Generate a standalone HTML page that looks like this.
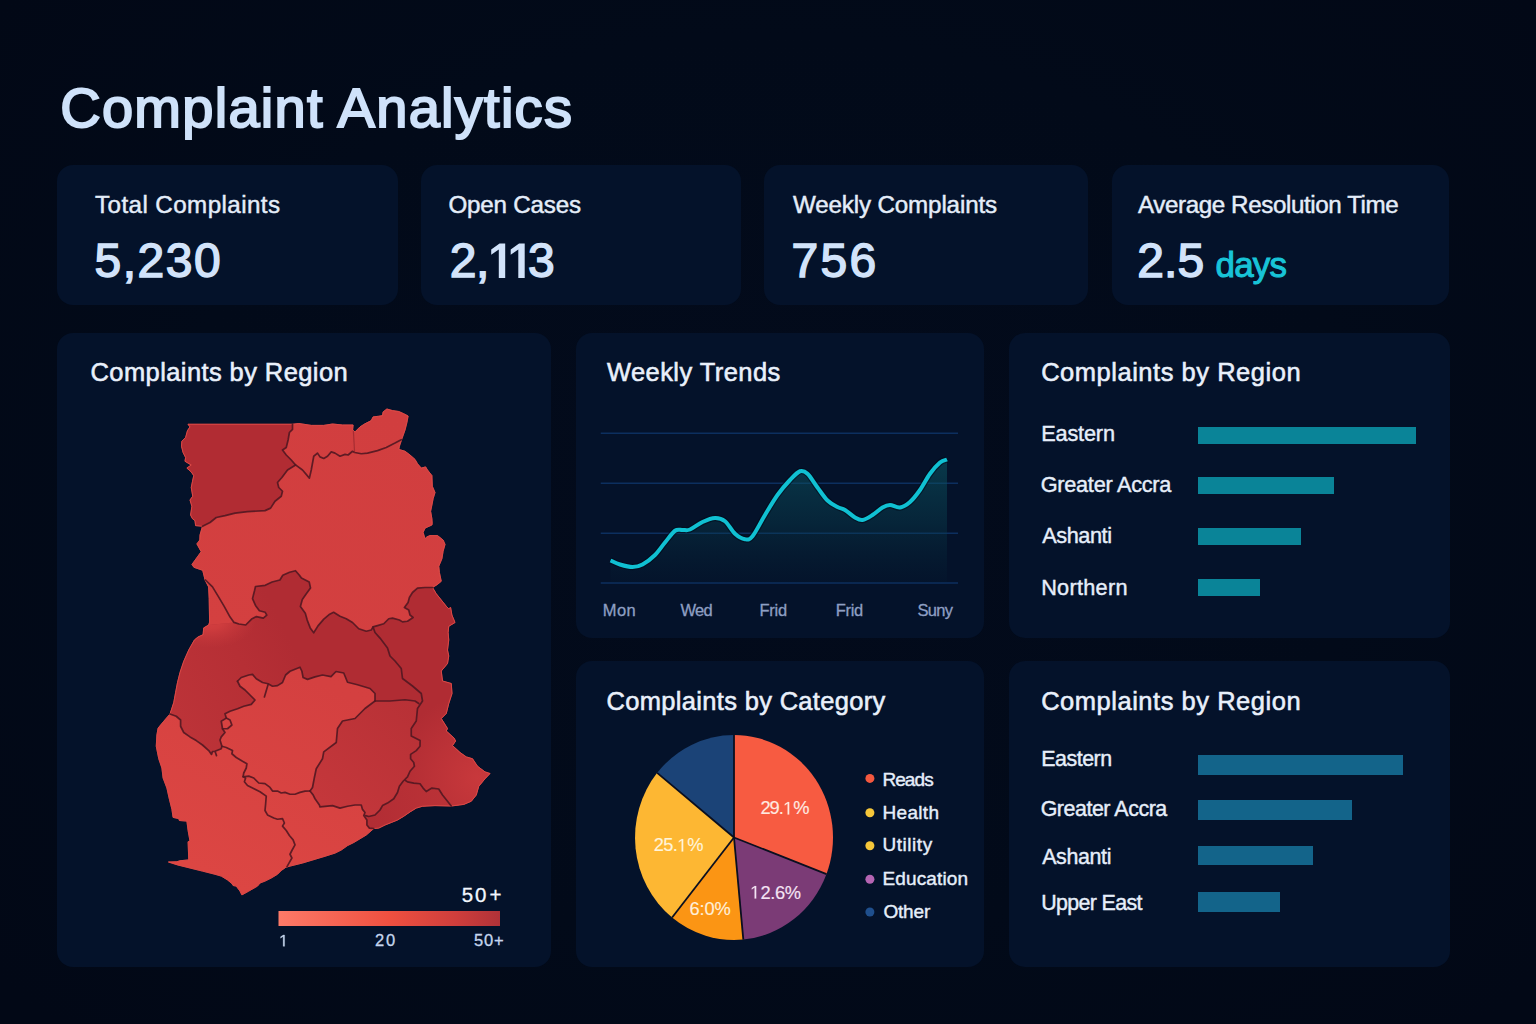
<!DOCTYPE html>
<html lang="en">
<head>
<meta charset="utf-8">
<title>Complaint Analytics</title>
<style>
*{margin:0;padding:0;box-sizing:border-box}
html,body{width:1536px;height:1024px;overflow:hidden}
body{background:#020917;font-family:"Liberation Sans",sans-serif;color:#e8f0fb;position:relative}
.bg{position:absolute;left:0;top:0;width:1536px;height:1024px;background:radial-gradient(ellipse 1000px 760px at 50% 48%,#030b1c 0%,#020a19 60%,#020816 100%)}
.card{position:absolute;background:#04122a;border-radius:16px}
.t{position:absolute;white-space:nowrap;line-height:1;font-weight:400}
.ov{position:absolute;left:0;top:0;pointer-events:none}
.bar{position:absolute}
</style>
</head>
<body>
<div class="bg"></div>
<div class="card" style="left:57px;top:165px;width:341px;height:140px"></div>
<div class="card" style="left:421px;top:165px;width:320px;height:140px"></div>
<div class="card" style="left:763.5px;top:165px;width:324px;height:140px"></div>
<div class="card" style="left:1112px;top:165px;width:337px;height:140px"></div>
<div class="card" style="left:57px;top:333px;width:494px;height:634px"></div>
<div class="card" style="left:575.5px;top:333px;width:408px;height:304.5px"></div>
<div class="card" style="left:1008.5px;top:333px;width:441.5px;height:304.5px"></div>
<div class="card" style="left:575.5px;top:661px;width:408px;height:306px"></div>
<div class="card" style="left:1008.5px;top:661px;width:441.5px;height:306px"></div>
<svg class="ov" width="1536" height="1024" viewBox="0 0 1536 1024">
<defs>
<linearGradient id="gl" gradientUnits="userSpaceOnUse" x1="400" y1="420" x2="180" y2="860"><stop offset="0" stop-color="#d13e3f"/><stop offset="0.55" stop-color="#d44040"/><stop offset="1" stop-color="#dc4643"/></linearGradient>
<linearGradient id="gd" gradientUnits="userSpaceOnUse" x1="170" y1="700" x2="290" y2="640"><stop offset="0" stop-color="#bc3338"/><stop offset="0.6" stop-color="#b62f35"/><stop offset="1" stop-color="#b02c33"/></linearGradient>
<radialGradient id="gvl" gradientUnits="userSpaceOnUse" cx="478" cy="778" r="85"><stop offset="0" stop-color="#c9393c" stop-opacity="0.95"/><stop offset="1" stop-color="#c9393c" stop-opacity="0"/></radialGradient>
<radialGradient id="gstrip" gradientUnits="userSpaceOnUse" cx="0" cy="0" r="1" gradientTransform="translate(210,621) scale(46,27)"><stop offset="0" stop-color="#d33f40" stop-opacity="1"/><stop offset="0.3" stop-color="#d23e3f" stop-opacity="0.85"/><stop offset="1" stop-color="#c6383b" stop-opacity="0"/></radialGradient>
<linearGradient id="gleg" x1="0" y1="0" x2="1" y2="0"><stop offset="0" stop-color="#fd7a68"/><stop offset="0.5" stop-color="#ef5040"/><stop offset="0.8" stop-color="#cf3e3c"/><stop offset="1" stop-color="#b03238"/></linearGradient>
<linearGradient id="ge" gradientUnits="userSpaceOnUse" x1="320" y1="800" x2="415" y2="705"><stop offset="0" stop-color="#c4373b"/><stop offset="1" stop-color="#b83136"/></linearGradient>
<linearGradient id="gga" gradientUnits="userSpaceOnUse" x1="370" y1="820" x2="450" y2="795"><stop offset="0" stop-color="#b22d34"/><stop offset="1" stop-color="#bb3237"/></linearGradient>
<clipPath id="cpdark"><polygon points="208.75,625.00 234.00,622.40 238.90,624.00 245.70,625.00 251.60,619.10 256.40,616.60 263.30,618.10 266.80,615.20 265.20,612.30 259.40,610.70 255.50,605.40 252.50,598.60 254.50,590.80 255.50,586.50 265.20,585.30 272.10,582.00 279.90,580.00 282.80,575.20 289.60,572.20 295.50,570.70 299.40,575.20 301.40,578.10 309.20,582.00 310.50,587.90 306.30,593.70 302.30,599.60 300.40,606.40 305.30,613.20 307.20,620.10 310.20,627.90 313.70,632.80 318.00,625.90 323.80,619.10 329.70,614.20 333.60,612.30 340.00,616.25 346.25,618.75 352.50,622.50 358.75,628.75 366.25,631.25 371.25,630.00 373.10,626.90 377.50,625.60 383.75,623.75 388.75,618.75 392.50,618.10 399.40,620.00 402.50,621.90 407.50,621.25 413.10,617.50 410.00,615.00 408.75,610.00 404.40,607.50 408.10,602.50 409.40,597.50 412.50,592.50 417.50,588.10 425.00,587.50 432.50,587.50 432.50,587.50 436.25,593.75 441.25,600.00 446.25,606.25 448.75,608.75 450.60,607.50 451.90,615.00 455.00,622.50 448.75,626.25 448.10,632.50 448.75,640.00 447.50,650.00 448.75,656.00 447.50,663.50 441.25,671.00 442.50,681.00 451.25,683.50 452.00,693.50 448.75,703.50 446.25,713.50 441.25,718.50 447.50,728.50 446.25,731.00 454.00,738.00 455.60,741.00 452.50,745.60 460.00,752.50 466.25,756.90 472.50,758.75 477.50,766.25 485.00,771.90 490.00,773.50 485.00,778.75 478.75,786.25 476.25,795.00 471.25,801.25 463.75,804.40 451.25,806.00 435.00,805.60 422.50,806.25 416.25,808.10 410.00,811.90 403.75,816.25 397.50,820.00 391.25,822.50 385.00,825.00 378.75,828.10 373.75,828.50 373.75,828.50 369.40,828.10 366.90,825.00 366.90,820.00 363.75,815.60 365.00,812.50 362.50,809.40 361.25,805.00 355.00,805.00 347.50,806.25 340.00,808.10 332.50,805.60 320.00,806.90 319.40,805.00 315.00,798.75 313.10,794.90 310.00,791.00 312.50,787.50 314.40,777.50 316.25,768.75 322.50,758.75 323.75,751.90 336.25,742.50 337.50,728.50 342.50,721.00 355.00,718.50 365.00,708.50 375.00,701.00 375.00,701.00 375.00,693.50 370.00,688.50 357.50,684.75 347.50,682.25 343.75,673.00 336.00,671.50 331.00,676.70 322.50,675.00 315.00,676.90 307.50,679.40 303.10,677.50 301.90,671.25 300.00,667.25 290.00,671.25 285.60,675.00 282.50,682.50 277.50,685.60 272.50,686.25 268.10,683.75 262.50,682.50 256.25,678.75 252.50,674.40 248.75,675.00 241.25,677.50 237.50,681.25 237.50,681.25 240.00,686.25 245.00,690.00 250.00,695.00 255.00,700.00 251.25,704.40 243.75,706.25 237.50,708.75 230.00,711.25 225.00,713.75 226.25,718.10 221.25,721.25 222.50,728.75 225.00,732.50 221.25,736.90 220.00,740.00 221.90,746.25 221.90,746.25 221.25,748.75 215.00,751.25 216.50,755.60 215.00,751.25 212.50,751.50 211.50,754.40 208.75,750.60 202.50,745.00 196.25,740.60 190.00,736.90 183.75,732.50 180.60,726.25 180.60,720.00 176.25,716.25 170.00,714.00 170.00,714.00 173.75,702.50 175.60,692.50 177.50,682.50 180.00,672.50 183.75,661.25 188.75,650.00 194.40,640.00 198.00,637.00 203.10,634.70 203.70,627.90 208.75,625.00"/></clipPath>
</defs>
<polygon points="188.00,424.25 292.50,424.25 298.75,423.50 311.25,425.40 323.75,425.40 332.50,424.00 342.50,425.00 353.10,425.00 352.60,430.00 355.00,431.90 360.00,426.90 365.00,423.75 371.25,420.60 373.10,416.90 378.75,416.25 382.50,415.60 383.10,411.90 386.90,409.00 392.50,410.60 398.75,411.50 403.75,413.75 408.10,416.00 406.90,422.50 405.00,430.00 401.90,438.75 399.40,446.25 398.75,449.40 405.00,451.25 410.00,455.00 415.00,459.40 417.50,463.75 421.25,468.10 425.60,466.90 427.50,470.00 431.90,475.60 432.30,486.25 435.00,492.50 433.10,498.75 431.90,505.00 430.60,511.25 431.90,518.75 432.20,523.50 431.90,525.00 425.00,528.10 423.10,532.50 425.00,538.75 426.90,536.90 430.00,535.60 437.50,535.60 443.10,540.00 445.00,544.40 443.10,551.25 441.90,558.75 438.75,566.25 439.40,572.50 441.25,581.25 437.50,584.40 432.50,587.50 436.25,593.75 441.25,600.00 446.25,606.25 448.75,608.75 450.60,607.50 451.90,615.00 455.00,622.50 448.75,626.25 448.10,632.50 448.75,640.00 447.50,650.00 448.75,656.00 447.50,663.50 441.25,671.00 442.50,681.00 451.25,683.50 452.00,693.50 448.75,703.50 446.25,713.50 441.25,718.50 447.50,728.50 446.25,731.00 454.00,738.00 455.60,741.00 452.50,745.60 460.00,752.50 466.25,756.90 472.50,758.75 477.50,766.25 485.00,771.90 490.00,773.50 485.00,778.75 478.75,786.25 476.25,795.00 471.25,801.25 463.75,804.40 451.25,806.00 435.00,805.60 422.50,806.25 416.25,808.10 410.00,811.90 403.75,816.25 397.50,820.00 391.25,822.50 385.00,825.00 378.75,828.10 373.75,828.50 366.25,835.00 360.00,838.75 353.75,842.50 347.50,845.60 341.25,850.00 335.00,853.10 325.00,856.25 315.00,859.25 302.50,863.00 290.00,866.10 285.60,867.40 281.25,870.50 277.50,874.25 271.25,878.00 265.00,881.10 260.00,883.00 257.50,886.10 248.75,891.10 241.90,894.90 240.00,891.10 236.25,886.10 233.10,885.50 231.90,883.60 227.50,879.90 221.25,876.10 215.00,874.25 202.50,871.10 190.00,868.00 177.50,864.90 168.50,862.00 176.90,861.75 180.00,860.75 188.75,859.90 188.10,841.75 190.00,841.10 188.10,830.50 186.90,821.10 179.40,820.50 178.75,818.60 173.10,817.40 171.90,809.25 169.40,799.25 166.90,788.00 163.10,778.00 161.90,768.00 158.75,758.75 156.25,746.25 156.90,735.00 158.10,728.10 163.75,721.25 170.00,714.00 173.75,702.50 175.60,692.50 177.50,682.50 180.00,672.50 183.75,661.25 188.75,650.00 194.40,640.00 198.00,637.00 203.10,634.70 203.70,627.90 208.75,625.00 209.60,622.00 209.20,598.60 208.60,586.90 205.10,580.00 202.70,570.30 193.90,567.30 192.00,564.40 201.20,551.70 196.90,543.90 199.80,540.00 200.00,535.00 202.50,526.25 195.60,525.60 195.00,520.60 192.50,518.75 190.60,515.00 191.90,506.25 190.00,500.00 192.75,496.25 191.25,487.50 192.50,481.25 193.75,475.60 191.25,471.90 186.90,468.10 191.25,465.00 185.00,461.25 185.60,457.50 183.10,452.50 181.50,446.25 181.90,441.25 185.60,437.50 187.50,430.60 190.00,426.90" fill="url(#gl)" stroke="#d64241" stroke-width="0.8" stroke-linejoin="round"/>
<polygon points="292.50,424.25 292.50,429.40 289.40,432.50 288.10,440.00 286.25,447.50 282.50,450.00 286.25,455.00 291.25,460.00 295.60,465.00 287.50,470.00 281.90,477.50 277.50,482.50 278.75,487.50 282.50,491.25 281.25,496.25 275.00,501.25 270.60,508.10 265.00,510.60 247.50,511.60 235.00,513.10 225.00,515.60 216.25,517.50 210.00,522.50 202.50,526.25 202.50,526.25 195.60,525.60 195.00,520.60 192.50,518.75 190.60,515.00 191.90,506.25 190.00,500.00 192.75,496.25 191.25,487.50 192.50,481.25 193.75,475.60 191.25,471.90 186.90,468.10 191.25,465.00 185.00,461.25 185.60,457.50 183.10,452.50 181.50,446.25 181.90,441.25 185.60,437.50 187.50,430.60 190.00,426.90 188.00,424.25" fill="#b12c33"/>
<polygon points="208.75,625.00 234.00,622.40 238.90,624.00 245.70,625.00 251.60,619.10 256.40,616.60 263.30,618.10 266.80,615.20 265.20,612.30 259.40,610.70 255.50,605.40 252.50,598.60 254.50,590.80 255.50,586.50 265.20,585.30 272.10,582.00 279.90,580.00 282.80,575.20 289.60,572.20 295.50,570.70 299.40,575.20 301.40,578.10 309.20,582.00 310.50,587.90 306.30,593.70 302.30,599.60 300.40,606.40 305.30,613.20 307.20,620.10 310.20,627.90 313.70,632.80 318.00,625.90 323.80,619.10 329.70,614.20 333.60,612.30 340.00,616.25 346.25,618.75 352.50,622.50 358.75,628.75 366.25,631.25 371.25,630.00 373.10,626.90 377.50,625.60 383.75,623.75 388.75,618.75 392.50,618.10 399.40,620.00 402.50,621.90 407.50,621.25 413.10,617.50 410.00,615.00 408.75,610.00 404.40,607.50 408.10,602.50 409.40,597.50 412.50,592.50 417.50,588.10 425.00,587.50 432.50,587.50 432.50,587.50 436.25,593.75 441.25,600.00 446.25,606.25 448.75,608.75 450.60,607.50 451.90,615.00 455.00,622.50 448.75,626.25 448.10,632.50 448.75,640.00 447.50,650.00 448.75,656.00 447.50,663.50 441.25,671.00 442.50,681.00 451.25,683.50 452.00,693.50 448.75,703.50 446.25,713.50 441.25,718.50 447.50,728.50 446.25,731.00 454.00,738.00 455.60,741.00 452.50,745.60 460.00,752.50 466.25,756.90 472.50,758.75 477.50,766.25 485.00,771.90 490.00,773.50 485.00,778.75 478.75,786.25 476.25,795.00 471.25,801.25 463.75,804.40 451.25,806.00 435.00,805.60 422.50,806.25 416.25,808.10 410.00,811.90 403.75,816.25 397.50,820.00 391.25,822.50 385.00,825.00 378.75,828.10 373.75,828.50 373.75,828.50 369.40,828.10 366.90,825.00 366.90,820.00 363.75,815.60 365.00,812.50 362.50,809.40 361.25,805.00 355.00,805.00 347.50,806.25 340.00,808.10 332.50,805.60 320.00,806.90 319.40,805.00 315.00,798.75 313.10,794.90 310.00,791.00 312.50,787.50 314.40,777.50 316.25,768.75 322.50,758.75 323.75,751.90 336.25,742.50 337.50,728.50 342.50,721.00 355.00,718.50 365.00,708.50 375.00,701.00 375.00,701.00 375.00,693.50 370.00,688.50 357.50,684.75 347.50,682.25 343.75,673.00 336.00,671.50 331.00,676.70 322.50,675.00 315.00,676.90 307.50,679.40 303.10,677.50 301.90,671.25 300.00,667.25 290.00,671.25 285.60,675.00 282.50,682.50 277.50,685.60 272.50,686.25 268.10,683.75 262.50,682.50 256.25,678.75 252.50,674.40 248.75,675.00 241.25,677.50 237.50,681.25 237.50,681.25 240.00,686.25 245.00,690.00 250.00,695.00 255.00,700.00 251.25,704.40 243.75,706.25 237.50,708.75 230.00,711.25 225.00,713.75 226.25,718.10 221.25,721.25 222.50,728.75 225.00,732.50 221.25,736.90 220.00,740.00 221.90,746.25 221.90,746.25 221.25,748.75 215.00,751.25 216.50,755.60 215.00,751.25 212.50,751.50 211.50,754.40 208.75,750.60 202.50,745.00 196.25,740.60 190.00,736.90 183.75,732.50 180.60,726.25 180.60,720.00 176.25,716.25 170.00,714.00 170.00,714.00 173.75,702.50 175.60,692.50 177.50,682.50 180.00,672.50 183.75,661.25 188.75,650.00 194.40,640.00 198.00,637.00 203.10,634.70 203.70,627.90 208.75,625.00" fill="url(#gd)"/>
<rect x="380" y="690" width="120" height="130" fill="url(#gvl)" clip-path="url(#cpdark)"/>
<polygon points="310.00,791.00 312.50,787.50 314.40,777.50 316.25,768.75 322.50,758.75 323.75,751.90 336.25,742.50 337.50,728.50 342.50,721.00 355.00,718.50 365.00,708.50 375.00,701.00 390.00,701.00 405.00,699.75 415.00,701.00 418.75,703.50 422.50,701.00 417.50,708.50 416.25,721.00 411.25,728.50 411.25,736.00 420.10,740.60 420.00,746.25 416.25,750.60 410.60,754.40 410.60,758.75 413.75,762.50 414.40,766.25 410.00,771.25 407.50,776.90 403.10,781.25 399.40,786.25 397.50,792.50 393.75,798.75 387.50,803.10 382.50,805.60 380.00,810.00 375.00,815.00 368.75,816.50 365.60,815.60 363.75,815.60 365.00,812.50 362.50,809.40 361.25,805.00 355.00,805.00 347.50,806.25 340.00,808.10 332.50,805.60 320.00,806.90 319.40,805.00 315.00,798.75 313.10,794.90 310.00,791.00" fill="url(#ge)"/>
<polygon points="405.50,780.50 407.50,781.90 413.75,783.10 420.00,783.75 423.10,788.10 426.25,791.50 431.90,788.10 438.75,789.00 442.50,795.00 447.50,801.25 451.25,806.00 451.25,806.00 435.00,805.60 422.50,806.25 416.25,808.10 410.00,811.90 403.75,816.25 397.50,820.00 391.25,822.50 385.00,825.00 378.75,828.10 373.75,828.50 369.40,828.10 366.90,825.00 366.90,820.00 365.60,815.60 368.75,816.50 375.00,815.00 380.00,810.00 382.50,805.60 387.50,803.10 393.75,798.75 397.50,792.50 399.40,786.25 403.10,781.25" fill="url(#gga)"/>
<rect x="140" y="560" width="150" height="140" fill="url(#gstrip)" clip-path="url(#cpdark)"/>
<polygon points="188.00,424.25 292.50,424.25 298.75,423.50 311.25,425.40 323.75,425.40 332.50,424.00 342.50,425.00 353.10,425.00 352.60,430.00 355.00,431.90 360.00,426.90 365.00,423.75 371.25,420.60 373.10,416.90 378.75,416.25 382.50,415.60 383.10,411.90 386.90,409.00 392.50,410.60 398.75,411.50 403.75,413.75 408.10,416.00 406.90,422.50 405.00,430.00 401.90,438.75 399.40,446.25 398.75,449.40 405.00,451.25 410.00,455.00 415.00,459.40 417.50,463.75 421.25,468.10 425.60,466.90 427.50,470.00 431.90,475.60 432.30,486.25 435.00,492.50 433.10,498.75 431.90,505.00 430.60,511.25 431.90,518.75 432.20,523.50 431.90,525.00 425.00,528.10 423.10,532.50 425.00,538.75 426.90,536.90 430.00,535.60 437.50,535.60 443.10,540.00 445.00,544.40 443.10,551.25 441.90,558.75 438.75,566.25 439.40,572.50 441.25,581.25 437.50,584.40 432.50,587.50 436.25,593.75 441.25,600.00 446.25,606.25 448.75,608.75 450.60,607.50 451.90,615.00 455.00,622.50 448.75,626.25 448.10,632.50 448.75,640.00 447.50,650.00 448.75,656.00 447.50,663.50 441.25,671.00 442.50,681.00 451.25,683.50 452.00,693.50 448.75,703.50 446.25,713.50 441.25,718.50 447.50,728.50 446.25,731.00 454.00,738.00 455.60,741.00 452.50,745.60 460.00,752.50 466.25,756.90 472.50,758.75 477.50,766.25 485.00,771.90 490.00,773.50 485.00,778.75 478.75,786.25 476.25,795.00 471.25,801.25 463.75,804.40 451.25,806.00 435.00,805.60 422.50,806.25 416.25,808.10 410.00,811.90 403.75,816.25 397.50,820.00 391.25,822.50 385.00,825.00 378.75,828.10 373.75,828.50 366.25,835.00 360.00,838.75 353.75,842.50 347.50,845.60 341.25,850.00 335.00,853.10 325.00,856.25 315.00,859.25 302.50,863.00 290.00,866.10 285.60,867.40 281.25,870.50 277.50,874.25 271.25,878.00 265.00,881.10 260.00,883.00 257.50,886.10 248.75,891.10 241.90,894.90 240.00,891.10 236.25,886.10 233.10,885.50 231.90,883.60 227.50,879.90 221.25,876.10 215.00,874.25 202.50,871.10 190.00,868.00 177.50,864.90 168.50,862.00 176.90,861.75 180.00,860.75 188.75,859.90 188.10,841.75 190.00,841.10 188.10,830.50 186.90,821.10 179.40,820.50 178.75,818.60 173.10,817.40 171.90,809.25 169.40,799.25 166.90,788.00 163.10,778.00 161.90,768.00 158.75,758.75 156.25,746.25 156.90,735.00 158.10,728.10 163.75,721.25 170.00,714.00 173.75,702.50 175.60,692.50 177.50,682.50 180.00,672.50 183.75,661.25 188.75,650.00 194.40,640.00 198.00,637.00 203.10,634.70 203.70,627.90 208.75,625.00 209.60,622.00 209.20,598.60 208.60,586.90 205.10,580.00 202.70,570.30 193.90,567.30 192.00,564.40 201.20,551.70 196.90,543.90 199.80,540.00 200.00,535.00 202.50,526.25 195.60,525.60 195.00,520.60 192.50,518.75 190.60,515.00 191.90,506.25 190.00,500.00 192.75,496.25 191.25,487.50 192.50,481.25 193.75,475.60 191.25,471.90 186.90,468.10 191.25,465.00 185.00,461.25 185.60,457.50 183.10,452.50 181.50,446.25 181.90,441.25 185.60,437.50 187.50,430.60 190.00,426.90" fill="none" stroke="#e64f49" stroke-width="1" stroke-linejoin="round" opacity="0.75"/>
<polyline points="292.50,424.25 292.50,429.40 289.40,432.50 288.10,440.00 286.25,447.50 282.50,450.00 286.25,455.00 291.25,460.00 295.60,465.00 287.50,470.00 281.90,477.50 277.50,482.50 278.75,487.50 282.50,491.25 281.25,496.25 275.00,501.25 270.60,508.10 265.00,510.60 247.50,511.60 235.00,513.10 225.00,515.60 216.25,517.50 210.00,522.50 202.50,526.25" fill="none" stroke="#521721" stroke-width="1.7" stroke-linejoin="round" stroke-linecap="round" opacity="0.9"/>
<polyline points="295.20,464.60 302.50,470.00 309.40,478.10 311.25,470.00 313.75,456.25 317.50,453.10 320.00,456.90 323.75,458.50 327.50,456.25 331.25,451.90 335.00,453.10 340.00,456.25 345.00,454.40 348.10,455.00 352.50,451.25 354.75,452.50 361.25,453.75 367.50,453.10 377.50,450.60 386.25,447.50 395.00,443.10 401.25,439.75" fill="none" stroke="#521721" stroke-width="1.7" stroke-linejoin="round" stroke-linecap="round" opacity="0.9"/>
<polyline points="205.50,580.00 212.50,586.90 218.40,596.60 224.20,606.40 230.10,617.10 234.00,622.40 238.90,624.00 245.70,625.00 251.60,619.10 256.40,616.60 263.30,618.10 266.80,615.20 265.20,612.30 259.40,610.70 255.50,605.40 252.50,598.60 254.50,590.80 255.50,586.50 265.20,585.30 272.10,582.00 279.90,580.00 282.80,575.20 289.60,572.20 295.50,570.70 299.40,575.20 301.40,578.10 309.20,582.00 310.50,587.90 306.30,593.70 302.30,599.60 300.40,606.40 305.30,613.20 307.20,620.10 310.20,627.90 313.70,632.80 318.00,625.90 323.80,619.10 329.70,614.20 333.60,612.30 340.00,616.25 346.25,618.75 352.50,622.50 358.75,628.75 366.25,631.25 371.25,630.00 373.10,626.90 377.50,625.60 383.75,623.75 388.75,618.75 392.50,618.10 399.40,620.00 402.50,621.90 407.50,621.25 413.10,617.50 410.00,615.00 408.75,610.00 404.40,607.50 408.10,602.50 409.40,597.50 412.50,592.50 417.50,588.10 425.00,587.50 432.50,587.50" fill="none" stroke="#521721" stroke-width="1.7" stroke-linejoin="round" stroke-linecap="round" opacity="0.9"/>
<polyline points="373.10,626.90 375.00,632.50 380.00,638.10 383.75,643.10 387.50,648.00 390.00,656.00 395.00,661.00 401.25,668.50 402.50,678.50 412.50,686.00 421.25,693.50 422.50,701.00 417.50,708.50 416.25,721.00 411.25,728.50 411.25,736.00 420.10,740.60 420.00,746.25 416.25,750.60 410.60,754.40 410.60,758.75 413.75,762.50 414.40,766.25 410.00,771.25 407.50,776.90 403.10,781.25 399.40,786.25 397.50,792.50 393.75,798.75 387.50,803.10 382.50,805.60 380.00,810.00 375.00,815.00 368.75,816.50 365.60,815.60" fill="none" stroke="#521721" stroke-width="1.7" stroke-linejoin="round" stroke-linecap="round" opacity="0.9"/>
<polyline points="237.50,681.25 241.25,677.50 248.75,675.00 252.50,674.40 256.25,678.75 262.50,682.50 268.10,683.75 272.50,686.25 277.50,685.60 282.50,682.50 285.60,675.00 290.00,671.25 300.00,667.25 301.90,671.25 303.10,677.50 307.50,679.40 315.00,676.90 322.50,675.00 331.00,676.70 336.00,671.50 343.75,673.00 347.50,682.25 357.50,684.75 370.00,688.50 375.00,693.50 375.00,701.00" fill="none" stroke="#521721" stroke-width="1.7" stroke-linejoin="round" stroke-linecap="round" opacity="0.9"/>
<polyline points="268.10,684.50 264.40,696.90" fill="none" stroke="#521721" stroke-width="1.7" stroke-linejoin="round" stroke-linecap="round" opacity="0.9"/>
<polyline points="237.50,681.25 240.00,686.25 245.00,690.00 250.00,695.00 255.00,700.00 251.25,704.40 243.75,706.25 237.50,708.75 230.00,711.25 225.00,713.75 226.25,718.10 221.25,721.25 222.50,728.75 225.00,732.50 221.25,736.90 220.00,740.00 221.90,746.25 226.25,747.50 232.50,750.60 231.90,753.75 236.25,757.50 242.50,761.25 246.90,763.75 246.25,768.00 243.75,773.00 243.10,776.75 248.75,776.10 253.75,778.00 258.75,783.00 265.00,783.60 270.00,787.40 272.50,791.10 277.50,791.10 281.25,793.00 285.00,792.40 290.00,794.25 295.00,794.25 300.00,792.40 305.00,791.10 310.00,791.00" fill="none" stroke="#521721" stroke-width="1.7" stroke-linejoin="round" stroke-linecap="round" opacity="0.9"/>
<polyline points="226.25,718.10 230.00,720.00 231.90,725.00 227.50,728.75 222.50,728.75" fill="none" stroke="#521721" stroke-width="1.7" stroke-linejoin="round" stroke-linecap="round" opacity="0.9"/>
<polyline points="310.00,791.00 312.50,787.50 314.40,777.50 316.25,768.75 322.50,758.75 323.75,751.90 336.25,742.50 337.50,728.50 342.50,721.00 355.00,718.50 365.00,708.50 375.00,701.00" fill="none" stroke="#521721" stroke-width="1.7" stroke-linejoin="round" stroke-linecap="round" opacity="0.9"/>
<polyline points="375.00,701.00 390.00,701.00 405.00,699.75 415.00,701.00 418.75,703.50" fill="none" stroke="#521721" stroke-width="1.7" stroke-linejoin="round" stroke-linecap="round" opacity="0.9"/>
<polyline points="405.50,780.50 407.50,781.90 413.75,783.10 420.00,783.75 423.10,788.10 426.25,791.50 431.90,788.10 438.75,789.00 442.50,795.00 447.50,801.25 451.25,806.00" fill="none" stroke="#521721" stroke-width="1.7" stroke-linejoin="round" stroke-linecap="round" opacity="0.9"/>
<polyline points="310.00,791.00 313.10,794.90 315.00,798.75 319.40,805.00 320.00,806.90 332.50,805.60 340.00,808.10 347.50,806.25 355.00,805.00 361.25,805.00 362.50,809.40 365.00,812.50 363.75,815.60 366.90,820.00 366.90,825.00 369.40,828.10 373.75,828.50" fill="none" stroke="#521721" stroke-width="1.7" stroke-linejoin="round" stroke-linecap="round" opacity="0.9"/>
<polyline points="243.10,776.75 245.60,778.00 244.40,781.75 247.50,785.50 252.50,788.00 260.00,791.75 266.25,796.10 265.60,804.25 265.00,810.50 267.50,814.90 273.75,818.00 277.50,819.25 282.50,818.60 284.40,823.00 282.50,826.10 286.25,830.50 289.40,835.50 293.10,839.90 295.00,844.90 291.90,850.50 290.00,854.25 291.90,858.00 289.40,862.40 286.90,866.80" fill="none" stroke="#521721" stroke-width="1.7" stroke-linejoin="round" stroke-linecap="round" opacity="0.9"/>
<polyline points="170.00,714.00 176.25,716.25 180.60,720.00 180.60,726.25 183.75,732.50 190.00,736.90 196.25,740.60 202.50,745.00 208.75,750.60 211.50,754.40 212.50,751.50 215.00,751.25 216.50,755.60 215.00,751.25 221.25,748.75 221.90,746.25" fill="none" stroke="#521721" stroke-width="1.7" stroke-linejoin="round" stroke-linecap="round" opacity="0.9"/>
<polyline points="353.40,431.25 354.60,452.20" fill="none" stroke="#8a2229" stroke-width="1.2" stroke-linecap="round" opacity="0.6"/>
<rect x="278.5" y="911" width="221.5" height="15" fill="url(#gleg)"/>
</svg>
<svg class="ov" width="1536" height="1024" viewBox="0 0 1536 1024">
<defs><linearGradient id="gt" gradientUnits="userSpaceOnUse" x1="0" y1="460" x2="0" y2="585"><stop offset="0" stop-color="#0c5a66" stop-opacity="0.55"/><stop offset="0.5" stop-color="#0a4452" stop-opacity="0.38"/><stop offset="1" stop-color="#08303f" stop-opacity="0.05"/></linearGradient></defs>
<line x1="600.75" y1="433.25" x2="958" y2="433.25" stroke="#0c2f5f" stroke-width="1.3"/>
<line x1="600.75" y1="483.25" x2="958" y2="483.25" stroke="#0c2f5f" stroke-width="1.3"/>
<line x1="600.75" y1="533.25" x2="958" y2="533.25" stroke="#0c2f5f" stroke-width="1.3"/>
<line x1="600.75" y1="583" x2="958" y2="583" stroke="#0c2f5f" stroke-width="1.3"/>
<path d="M610.50,560.50 C612.08,561.17 616.33,563.42 620.00,564.50 C623.67,565.58 628.75,567.00 632.50,567.00 C636.25,567.00 638.75,566.50 642.50,564.50 C646.25,562.50 651.25,558.67 655.00,555.00 C658.75,551.33 661.67,546.54 665.00,542.50 C668.33,538.46 672.08,532.83 675.00,530.75 C677.92,528.67 680.00,530.21 682.50,530.00 C685.00,529.79 686.67,530.83 690.00,529.50 C693.33,528.17 698.33,523.92 702.50,522.00 C706.67,520.08 711.25,518.12 715.00,518.00 C718.75,517.88 721.67,518.62 725.00,521.25 C728.33,523.88 731.67,530.75 735.00,533.75 C738.33,536.75 742.08,538.83 745.00,539.25 C747.92,539.67 749.17,540.29 752.50,536.25 C755.83,532.21 760.83,521.88 765.00,515.00 C769.17,508.12 773.33,500.83 777.50,495.00 C781.67,489.17 786.25,483.96 790.00,480.00 C793.75,476.04 797.08,472.29 800.00,471.25 C802.92,470.21 804.58,471.04 807.50,473.75 C810.42,476.46 814.17,483.04 817.50,487.50 C820.83,491.96 824.17,497.25 827.50,500.50 C830.83,503.75 834.58,505.42 837.50,507.00 C840.42,508.58 842.08,508.25 845.00,510.00 C847.92,511.75 852.08,515.83 855.00,517.50 C857.92,519.17 859.58,520.42 862.50,520.00 C865.42,519.58 869.17,517.08 872.50,515.00 C875.83,512.92 879.58,509.17 882.50,507.50 C885.42,505.83 887.08,505.00 890.00,505.00 C892.92,505.00 896.67,508.00 900.00,507.50 C903.33,507.00 906.67,504.92 910.00,502.00 C913.33,499.08 916.67,494.71 920.00,490.00 C923.33,485.29 926.67,478.33 930.00,473.75 C933.33,469.17 937.17,464.88 940.00,462.50 C942.83,460.12 945.83,460.00 947.00,459.50 L947,583 L610.5,583 Z" fill="url(#gt)"/>
<path d="M610.50,560.50 C612.08,561.17 616.33,563.42 620.00,564.50 C623.67,565.58 628.75,567.00 632.50,567.00 C636.25,567.00 638.75,566.50 642.50,564.50 C646.25,562.50 651.25,558.67 655.00,555.00 C658.75,551.33 661.67,546.54 665.00,542.50 C668.33,538.46 672.08,532.83 675.00,530.75 C677.92,528.67 680.00,530.21 682.50,530.00 C685.00,529.79 686.67,530.83 690.00,529.50 C693.33,528.17 698.33,523.92 702.50,522.00 C706.67,520.08 711.25,518.12 715.00,518.00 C718.75,517.88 721.67,518.62 725.00,521.25 C728.33,523.88 731.67,530.75 735.00,533.75 C738.33,536.75 742.08,538.83 745.00,539.25 C747.92,539.67 749.17,540.29 752.50,536.25 C755.83,532.21 760.83,521.88 765.00,515.00 C769.17,508.12 773.33,500.83 777.50,495.00 C781.67,489.17 786.25,483.96 790.00,480.00 C793.75,476.04 797.08,472.29 800.00,471.25 C802.92,470.21 804.58,471.04 807.50,473.75 C810.42,476.46 814.17,483.04 817.50,487.50 C820.83,491.96 824.17,497.25 827.50,500.50 C830.83,503.75 834.58,505.42 837.50,507.00 C840.42,508.58 842.08,508.25 845.00,510.00 C847.92,511.75 852.08,515.83 855.00,517.50 C857.92,519.17 859.58,520.42 862.50,520.00 C865.42,519.58 869.17,517.08 872.50,515.00 C875.83,512.92 879.58,509.17 882.50,507.50 C885.42,505.83 887.08,505.00 890.00,505.00 C892.92,505.00 896.67,508.00 900.00,507.50 C903.33,507.00 906.67,504.92 910.00,502.00 C913.33,499.08 916.67,494.71 920.00,490.00 C923.33,485.29 926.67,478.33 930.00,473.75 C933.33,469.17 937.17,464.88 940.00,462.50 C942.83,460.12 945.83,460.00 947.00,459.50" fill="none" stroke="#020a18" stroke-opacity="0.55" stroke-width="6.4" stroke-linecap="butt" stroke-linejoin="round"/>
<path d="M610.50,560.50 C612.08,561.17 616.33,563.42 620.00,564.50 C623.67,565.58 628.75,567.00 632.50,567.00 C636.25,567.00 638.75,566.50 642.50,564.50 C646.25,562.50 651.25,558.67 655.00,555.00 C658.75,551.33 661.67,546.54 665.00,542.50 C668.33,538.46 672.08,532.83 675.00,530.75 C677.92,528.67 680.00,530.21 682.50,530.00 C685.00,529.79 686.67,530.83 690.00,529.50 C693.33,528.17 698.33,523.92 702.50,522.00 C706.67,520.08 711.25,518.12 715.00,518.00 C718.75,517.88 721.67,518.62 725.00,521.25 C728.33,523.88 731.67,530.75 735.00,533.75 C738.33,536.75 742.08,538.83 745.00,539.25 C747.92,539.67 749.17,540.29 752.50,536.25 C755.83,532.21 760.83,521.88 765.00,515.00 C769.17,508.12 773.33,500.83 777.50,495.00 C781.67,489.17 786.25,483.96 790.00,480.00 C793.75,476.04 797.08,472.29 800.00,471.25 C802.92,470.21 804.58,471.04 807.50,473.75 C810.42,476.46 814.17,483.04 817.50,487.50 C820.83,491.96 824.17,497.25 827.50,500.50 C830.83,503.75 834.58,505.42 837.50,507.00 C840.42,508.58 842.08,508.25 845.00,510.00 C847.92,511.75 852.08,515.83 855.00,517.50 C857.92,519.17 859.58,520.42 862.50,520.00 C865.42,519.58 869.17,517.08 872.50,515.00 C875.83,512.92 879.58,509.17 882.50,507.50 C885.42,505.83 887.08,505.00 890.00,505.00 C892.92,505.00 896.67,508.00 900.00,507.50 C903.33,507.00 906.67,504.92 910.00,502.00 C913.33,499.08 916.67,494.71 920.00,490.00 C923.33,485.29 926.67,478.33 930.00,473.75 C933.33,469.17 937.17,464.88 940.00,462.50 C942.83,460.12 945.83,460.00 947.00,459.50" fill="none" stroke="#10c0d2" stroke-width="4" stroke-linecap="butt" stroke-linejoin="round"/>
</svg>
<svg class="ov" width="1536" height="1024" viewBox="0 0 1536 1024">
<path d="M734.0,837.5 L734.00,735.00 A99,102.5 0 0 1 826.49,874.07 Z" fill="#f75b41"/>
<path d="M734.0,837.5 L826.49,874.07 A99,102.5 0 0 1 743.32,939.55 Z" fill="#7b3b76"/>
<path d="M734.0,837.5 L743.32,939.55 A99,102.5 0 0 1 672.10,917.49 Z" fill="#fb9514"/>
<path d="M734.0,837.5 L672.10,917.49 A99,102.5 0 0 1 657.17,772.86 Z" fill="#fdb733"/>
<path d="M734.0,837.5 L657.17,772.86 A99,102.5 0 0 1 734.00,735.00 Z" fill="#1b4377"/>
<line x1="734.0" y1="837.5" x2="734.00" y2="735.00" stroke="#0a0f20" stroke-width="1.8"/>
<line x1="734.0" y1="837.5" x2="826.49" y2="874.07" stroke="#0a0f20" stroke-width="1.8"/>
<line x1="734.0" y1="837.5" x2="743.32" y2="939.55" stroke="#0a0f20" stroke-width="1.8"/>
<line x1="734.0" y1="837.5" x2="672.10" y2="917.49" stroke="#0a0f20" stroke-width="1.8"/>
<line x1="734.0" y1="837.5" x2="657.17" y2="772.86" stroke="#0a0f20" stroke-width="1.8"/>
<circle cx="869.9" cy="778.4" r="4.5" fill="#f4583f"/>
<circle cx="869.9" cy="812.7" r="4.5" fill="#f6c73a"/>
<circle cx="869.9" cy="845.7" r="4.5" fill="#f6c73a"/>
<circle cx="869.9" cy="879.3" r="4.5" fill="#b565b3"/>
<circle cx="869.9" cy="912" r="4.5" fill="#1f4f8d"/>
</svg>
<div class="bar" style="left:1198px;top:427.2px;width:217.9px;height:16.7px;background:#0a8498"></div>
<div class="bar" style="left:1198px;top:477.2px;width:135.9px;height:16.7px;background:#0a8498"></div>
<div class="bar" style="left:1198px;top:528px;width:103.1px;height:16.6px;background:#0a8498"></div>
<div class="bar" style="left:1198px;top:579.3px;width:61.7px;height:16.4px;background:#0a8498"></div>
<div class="bar" style="left:1198px;top:755px;width:204.9px;height:19.6px;background:#13648a"></div>
<div class="bar" style="left:1198px;top:800.1px;width:154.4px;height:19.5px;background:#13648a"></div>
<div class="bar" style="left:1198px;top:845.7px;width:114.6px;height:19.5px;background:#13648a"></div>
<div class="bar" style="left:1198px;top:892px;width:81.5px;height:20.0px;background:#13648a"></div>
<svg class="ov" width="1536" height="1024" viewBox="0 0 1536 1024">
<polygon points="505.2,243.5 505.2,278.1 498.8,278.1 498.8,249.39 491.2,254.71 491.2,249.60 499.57,243.5" fill="#d2e3fa"/>
<polygon points="524.7,243.5 524.7,278.1 518.3,278.1 518.3,249.39 510.7,254.71 510.7,249.60 519.07,243.5" fill="#d2e3fa"/>
</svg>
<div class="t" style="left:60.20px;top:79.90px;font-size:56px;letter-spacing:1.281px;color:#cfe2fa;-webkit-text-stroke:2.0px #cfe2fa;">Complaint Analytics</div>
<div class="t" style="left:95.00px;top:193.26px;font-size:24.2px;letter-spacing:0.420px;color:#e4edf9;-webkit-text-stroke:0.45px #e4edf9;">Total Complaints</div>
<div class="t" style="left:94.50px;top:237.37px;font-size:48px;letter-spacing:1.520px;color:#d2e3fa;-webkit-text-stroke:1.5px #d2e3fa;">5,230</div>
<div class="t" style="left:448.50px;top:193.26px;font-size:24.2px;letter-spacing:-0.206px;color:#e4edf9;-webkit-text-stroke:0.45px #e4edf9;">Open Cases</div>
<div class="t" style="left:449.85px;top:237.37px;font-size:48px;letter-spacing:-0.445px;color:#d2e3fa;-webkit-text-stroke:1.5px #d2e3fa;">2,</div>
<div class="t" style="left:527.90px;top:237.37px;font-size:48px;letter-spacing:0.000px;color:#d2e3fa;-webkit-text-stroke:1.5px #d2e3fa;">3</div>
<div class="t" style="left:793.00px;top:193.26px;font-size:24.2px;letter-spacing:-0.154px;color:#e4edf9;-webkit-text-stroke:0.45px #e4edf9;">Weekly Complaints</div>
<div class="t" style="left:791.50px;top:237.37px;font-size:48px;letter-spacing:2.305px;color:#d2e3fa;-webkit-text-stroke:1.5px #d2e3fa;">756</div>
<div class="t" style="left:1138.00px;top:193.26px;font-size:24.2px;letter-spacing:-0.410px;color:#e4edf9;-webkit-text-stroke:0.45px #e4edf9;">Average Resolution Time</div>
<div class="t" style="left:1137.25px;top:237.37px;font-size:48px;letter-spacing:0.109px;color:#d2e3fa;-webkit-text-stroke:1.5px #d2e3fa;">2.5</div>
<div class="t" style="left:1215.50px;top:247.37px;font-size:35px;letter-spacing:-0.810px;color:#18c4d7;-webkit-text-stroke:1.0px #18c4d7;">days</div>
<div class="t" style="left:90.50px;top:359.81px;font-size:25.5px;letter-spacing:0.406px;color:#e9f0fb;-webkit-text-stroke:0.55px #e9f0fb;">Complaints by Region</div>
<div class="t" style="left:606.90px;top:359.81px;font-size:25.5px;letter-spacing:0.434px;color:#e9f0fb;-webkit-text-stroke:0.55px #e9f0fb;">Weekly Trends</div>
<div class="t" style="left:1041.20px;top:359.81px;font-size:25.5px;letter-spacing:0.522px;color:#e9f0fb;-webkit-text-stroke:0.55px #e9f0fb;">Complaints by Region</div>
<div class="t" style="left:606.50px;top:689.01px;font-size:25.5px;letter-spacing:0.320px;color:#e9f0fb;-webkit-text-stroke:0.55px #e9f0fb;">Complaints by Category</div>
<div class="t" style="left:1041.20px;top:689.01px;font-size:25.5px;letter-spacing:0.522px;color:#e9f0fb;-webkit-text-stroke:0.55px #e9f0fb;">Complaints by Region</div>
<div class="t" style="left:1041.20px;top:423.43px;font-size:21.7px;letter-spacing:-0.163px;color:#e6eefa;-webkit-text-stroke:0.4px #e6eefa;">Eastern</div>
<div class="t" style="left:1040.70px;top:473.63px;font-size:21.7px;letter-spacing:-0.260px;color:#e6eefa;-webkit-text-stroke:0.4px #e6eefa;">Greater Accra</div>
<div class="t" style="left:1042.20px;top:525.23px;font-size:21.7px;letter-spacing:-0.412px;color:#e6eefa;-webkit-text-stroke:0.4px #e6eefa;">Ashanti</div>
<div class="t" style="left:1041.20px;top:576.53px;font-size:21.7px;letter-spacing:0.269px;color:#e6eefa;-webkit-text-stroke:0.4px #e6eefa;">Northern</div>
<div class="t" style="left:1041.20px;top:748.68px;font-size:21.4px;letter-spacing:-0.462px;color:#e6eefa;-webkit-text-stroke:0.4px #e6eefa;">Eastern</div>
<div class="t" style="left:1040.70px;top:798.88px;font-size:21.4px;letter-spacing:-0.453px;color:#e6eefa;-webkit-text-stroke:0.4px #e6eefa;">Greater Accra</div>
<div class="t" style="left:1042.20px;top:846.58px;font-size:21.4px;letter-spacing:-0.349px;color:#e6eefa;-webkit-text-stroke:0.4px #e6eefa;">Ashanti</div>
<div class="t" style="left:1041.20px;top:893.48px;font-size:21.4px;letter-spacing:-0.640px;color:#e6eefa;-webkit-text-stroke:0.4px #e6eefa;">Upper East</div>
<div class="t" style="left:602.75px;top:601.53px;font-size:16.5px;letter-spacing:0.414px;color:#8e9fc3;-webkit-text-stroke:0.3px #8e9fc3;">Mon</div>
<div class="t" style="left:680.50px;top:601.53px;font-size:16.5px;letter-spacing:-0.726px;color:#8e9fc3;-webkit-text-stroke:0.3px #8e9fc3;">Wed</div>
<div class="t" style="left:759.50px;top:601.53px;font-size:16.5px;letter-spacing:-0.246px;color:#8e9fc3;-webkit-text-stroke:0.3px #8e9fc3;">Frid</div>
<div class="t" style="left:835.75px;top:601.53px;font-size:16.5px;letter-spacing:-0.330px;color:#8e9fc3;-webkit-text-stroke:0.3px #8e9fc3;">Frid</div>
<div class="t" style="left:917.50px;top:601.53px;font-size:16.5px;letter-spacing:-0.703px;color:#8e9fc3;-webkit-text-stroke:0.3px #8e9fc3;">Suny</div>
<div class="t" style="left:882.40px;top:769.72px;font-size:19px;letter-spacing:-0.905px;color:#e6eefa;-webkit-text-stroke:0.4px #e6eefa;">Reads</div>
<div class="t" style="left:882.40px;top:802.62px;font-size:19px;letter-spacing:0.349px;color:#e6eefa;-webkit-text-stroke:0.4px #e6eefa;">Health</div>
<div class="t" style="left:882.40px;top:835.32px;font-size:19px;letter-spacing:0.560px;color:#e6eefa;-webkit-text-stroke:0.4px #e6eefa;">Utility</div>
<div class="t" style="left:882.40px;top:868.72px;font-size:19px;letter-spacing:0.145px;color:#e6eefa;-webkit-text-stroke:0.4px #e6eefa;">Education</div>
<div class="t" style="left:883.40px;top:901.62px;font-size:19px;letter-spacing:-0.173px;color:#e6eefa;-webkit-text-stroke:0.4px #e6eefa;">Other</div>
<div class="t" style="left:760.40px;top:799.31px;font-size:18.3px;letter-spacing:-0.945px;color:#ffe9e0;-webkit-text-stroke:0.15px #ffe9e0;">29.<svg style="display:inline-block;width:0.55615em;height:0.688em;vertical-align:baseline;overflow:visible" viewBox="0 0 1139 1409"><polygon points="515,1409 515,172 197,399 197,229 530,0 696,0 696,1409" fill="#ffe9e0" stroke="#ffe9e0" stroke-width="17" stroke-linejoin="miter"/></svg>%</div>
<div class="t" style="left:653.70px;top:836.41px;font-size:18.3px;letter-spacing:-0.645px;color:#fff4da;-webkit-text-stroke:0.15px #fff4da;">25.<svg style="display:inline-block;width:0.55615em;height:0.688em;vertical-align:baseline;overflow:visible" viewBox="0 0 1139 1409"><polygon points="515,1409 515,172 197,399 197,229 530,0 696,0 696,1409" fill="#fff4da" stroke="#fff4da" stroke-width="17" stroke-linejoin="miter"/></svg>%</div>
<div class="t" style="left:750.40px;top:883.61px;font-size:18.3px;letter-spacing:-0.395px;color:#f4e4f4;-webkit-text-stroke:0.15px #f4e4f4;"><svg style="display:inline-block;width:0.55615em;height:0.688em;vertical-align:baseline;overflow:visible" viewBox="0 0 1139 1409"><polygon points="515,1409 515,172 197,399 197,229 530,0 696,0 696,1409" fill="#f4e4f4" stroke="#f4e4f4" stroke-width="17" stroke-linejoin="miter"/></svg>2.6%</div>
<div class="t" style="left:689.60px;top:899.51px;font-size:18.3px;letter-spacing:-0.171px;color:#ffefd9;-webkit-text-stroke:0.15px #ffefd9;">6:0%</div>
<div class="t" style="left:461.80px;top:885.05px;font-size:20.5px;letter-spacing:1.799px;color:#f3f7fe;-webkit-text-stroke:0.3px #f3f7fe;">50</div>
<div class="t" style="left:489.40px;top:885.05px;font-size:20.5px;letter-spacing:0.000px;color:#f3f7fe;-webkit-text-stroke:0.3px #f3f7fe;">+</div>
<div class="t" style="left:279.00px;top:932.13px;font-size:16.5px;letter-spacing:0.000px;color:#c6d6ee;-webkit-text-stroke:0.3px #c6d6ee;"><svg style="display:inline-block;width:0.55615em;height:0.688em;vertical-align:baseline;overflow:visible" viewBox="0 0 1139 1409"><polygon points="515,1409 515,172 197,399 197,229 530,0 696,0 696,1409" fill="#c6d6ee" stroke="#c6d6ee" stroke-width="37" stroke-linejoin="miter"/></svg></div>
<div class="t" style="left:375.10px;top:932.13px;font-size:16.5px;letter-spacing:1.823px;color:#c6d6ee;-webkit-text-stroke:0.3px #c6d6ee;">20</div>
<div class="t" style="left:474.10px;top:932.13px;font-size:16.5px;letter-spacing:0.723px;color:#c6d6ee;-webkit-text-stroke:0.3px #c6d6ee;">50+</div>
</body>
</html>
